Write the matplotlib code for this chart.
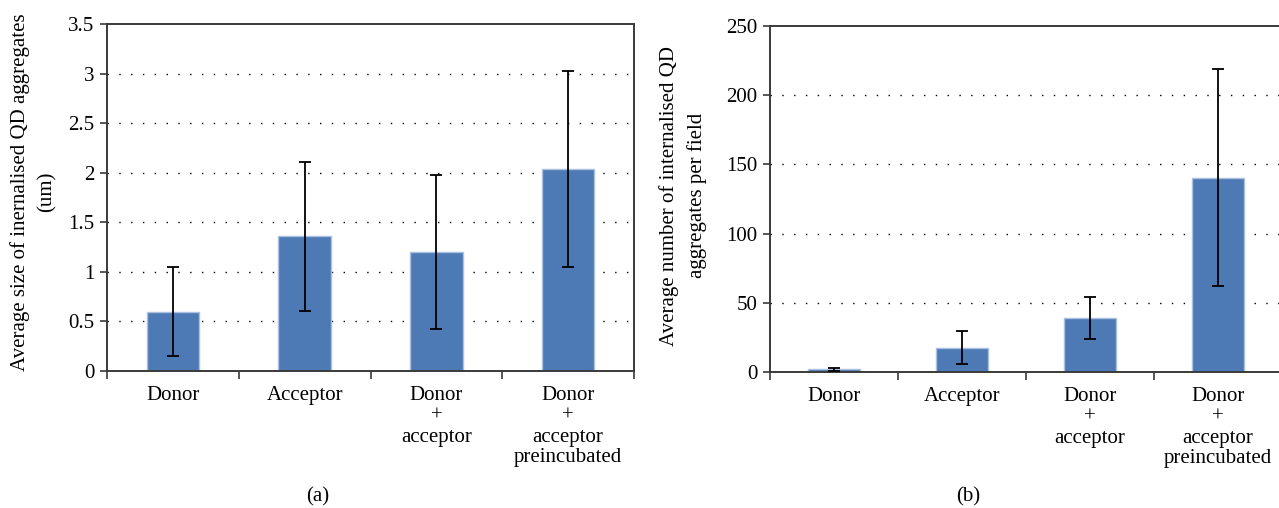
import matplotlib
matplotlib.use("Agg")
import matplotlib.pyplot as plt
from matplotlib.ticker import FixedLocator, NullFormatter, FixedFormatter

categories = ["Donor", "Acceptor", "Donor\n+\nacceptor", "Donor\n+\nacceptor\npreincubated"]

size_mean = [0.60, 1.36, 1.20, 2.04]
size_err = [0.45, 0.75, 0.78, 0.99]
size_ticks = [0, 0.5, 1, 1.5, 2, 2.5, 3, 3.5]
size_tick_labels = ["0", "0.5", "1", "1.5", "2", "2.5", "3", "3.5"]

count_mean = [2.0, 17.5, 39.0, 140.5]
count_err = [1.2, 12.0, 15.0, 78.5]
count_ticks = [0, 50, 100, 150, 200, 250]

BAR_COLOR = "#4d7ab5"
EDGE_COLOR = "#a9c0df"
SPINE_COLOR = "#3a3a3a"

plt.rcParams["font.family"] = ["Liberation Serif", "DejaVu Serif"]
plt.rcParams["font.size"] = 15


def draw_panel(ax, means, errs, ticks, tick_labels, ylabel, ymax):
    x = list(range(len(means)))
    ax.bar(x, means, width=0.4, color=BAR_COLOR, edgecolor=EDGE_COLOR,
           linewidth=1.0, zorder=2)
    ax.errorbar(x, means, yerr=errs, fmt="none", ecolor="black",
                elinewidth=1.3, capsize=4, capthick=1.3, zorder=3)

    ax.set_xlim(-0.5, len(means) - 0.5)
    ax.set_ylim(0, ymax)

    # category boundaries get the tick marks, centres get the labels
    ax.xaxis.set_major_locator(FixedLocator([i - 0.5 for i in range(len(means) + 1)]))
    ax.xaxis.set_major_formatter(NullFormatter())
    ax.xaxis.set_minor_locator(FixedLocator(x))
    ax.xaxis.set_minor_formatter(FixedFormatter(categories))
    ax.tick_params(axis="x", which="major", direction="out", length=6,
                   width=1.2, color=SPINE_COLOR)
    ax.tick_params(axis="x", which="minor", length=0, pad=11)
    for lab in ax.xaxis.get_minorticklabels():
        lab.set_linespacing(1.12)
        lab.set_verticalalignment("top")

    ax.set_yticks(ticks)
    ax.set_yticklabels(tick_labels)
    ax.tick_params(axis="y", direction="out", length=5, width=1.2,
                   color=SPINE_COLOR, pad=4)

    for y in ticks[1:-1]:
        ax.axhline(y, color="black", linewidth=1.0, linestyle=(0, (1, 7.5)),
                   zorder=1)

    for side in ["left", "right", "top", "bottom"]:
        ax.spines[side].set_color(SPINE_COLOR)
        ax.spines[side].set_linewidth(1.4)

    ax.set_ylabel(ylabel, linespacing=1.55)


fig = plt.figure(figsize=(12.79, 5.08), dpi=100)

ax_a = fig.add_axes([0.0837, 0.2697, 0.4120, 0.6831])
draw_panel(ax_a, size_mean, size_err, size_ticks, size_tick_labels,
           "Average size of inernalised QD aggregates\n(um)", 3.5)
ax_a.yaxis.set_label_coords(-0.095, 0.515)

ax_b = fig.add_axes([0.6020, 0.2677, 0.4003, 0.6811])
draw_panel(ax_b, count_mean, count_err, count_ticks,
           [str(t) for t in count_ticks],
           "Average number of internalised QD\naggregates per field", 250)
ax_b.yaxis.set_label_coords(-0.122, 0.51)

fig.text(0.2487, 0.0217, "(a)", ha="center", va="center")
fig.text(0.7568, 0.0217, "(b)", ha="center", va="center")

fig.savefig("out.png", dpi=100)
